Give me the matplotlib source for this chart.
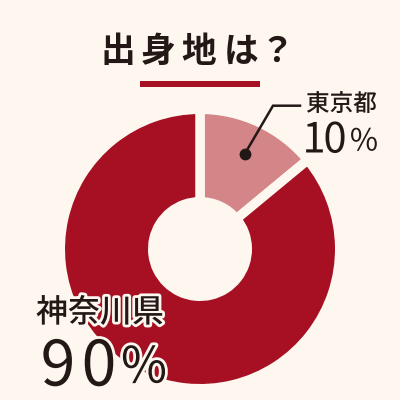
import numpy as np
import matplotlib
matplotlib.use("Agg")
import matplotlib.pyplot as plt
import matplotlib.patheffects as pe

plt.rcParams['font.family'] = ['Noto Sans CJK JP', 'DejaVu Sans']

# データ
title = "出身地は？"
regions = ["東京都", "神奈川県"]
percents = [10, 90]
# 図の上での扇形の大きさ（絵から読み取った値）
shares = [14, 86]

bg = "#FDF7EF"
dark = "#A61022"
pink = "#D38588"
ink = "#231815"

fig = plt.figure(figsize=(4, 4), dpi=100)
fig.patch.set_facecolor(bg)
ax = fig.add_axes([0, 0, 1, 1])
ax.set_facecolor(bg)

cx, cy = 200, 400 - 249
gap = 9.5  # px
lw = gap * 72 / 100
r_out = 135 + gap / 2
r_in = 52 - gap / 2

wedges, _ = ax.pie(shares, colors=[pink, dark], startangle=90, counterclock=False,
                   radius=r_out, center=(cx, cy),
                   wedgeprops=dict(width=r_out - r_in, edgecolor=bg, linewidth=lw))

ax.set_xlim(0, 400)
ax.set_ylim(0, 400)
ax.set_aspect('equal')
ax.axis('off')

# タイトル（一文字ずつ配置して字間をあける）
for ch, x in zip(title, [118, 158, 199, 241, 277]):
    ax.text(x, 400 - 62, ch, fontsize=25, fontweight='bold', color=ink,
            ha='center', va='baseline')
ax.plot([140, 260], [400 - 84, 400 - 84], color=dark, lw=4.3, solid_capstyle='butt')

halo = [pe.withStroke(linewidth=4, foreground=bg)]


def number(s, xs, y, size, px, py, psize):
    # 数字を一文字ずつ置いて、最後に小さめの％
    for ch, x in zip(s, xs):
        ax.text(x, 400 - y, ch, fontsize=size, color=ink, ha='center', va='baseline',
                path_effects=halo)
    ax.text(px, 400 - py, "%", fontsize=psize, color=ink, ha='center', va='baseline',
            path_effects=halo)


# 東京都 のリーダー線
w = wedges[0]
mid = np.deg2rad((w.theta1 + w.theta2) / 2)
dot = (cx + 105 * np.cos(mid), cy + 105 * np.sin(mid))
ax.plot([300, 273, dot[0]], [400 - 105.7, 400 - 105.7, dot[1]], color=ink, lw=1.8,
        solid_joinstyle='miter')
ax.plot(*dot, 'o', color=ink, ms=7.5)

# 東京都 10%
ax.text(306, 400 - 111, regions[0], fontsize=17, fontweight='medium', color=ink,
        ha='left', va='baseline', path_effects=halo)
number(str(percents[0]), [314, 335], 152.5, 30, 364, 150.5, 22)

# 神奈川県 90%
ax.text(36, 400 - 322, regions[1], fontsize=23, fontweight='medium', color=ink,
        ha='left', va='baseline', path_effects=halo)
number(str(percents[1]), [58, 99], 385.5, 45, 144, 382.5, 36)

fig.savefig("out.png", dpi=100, facecolor=bg)
